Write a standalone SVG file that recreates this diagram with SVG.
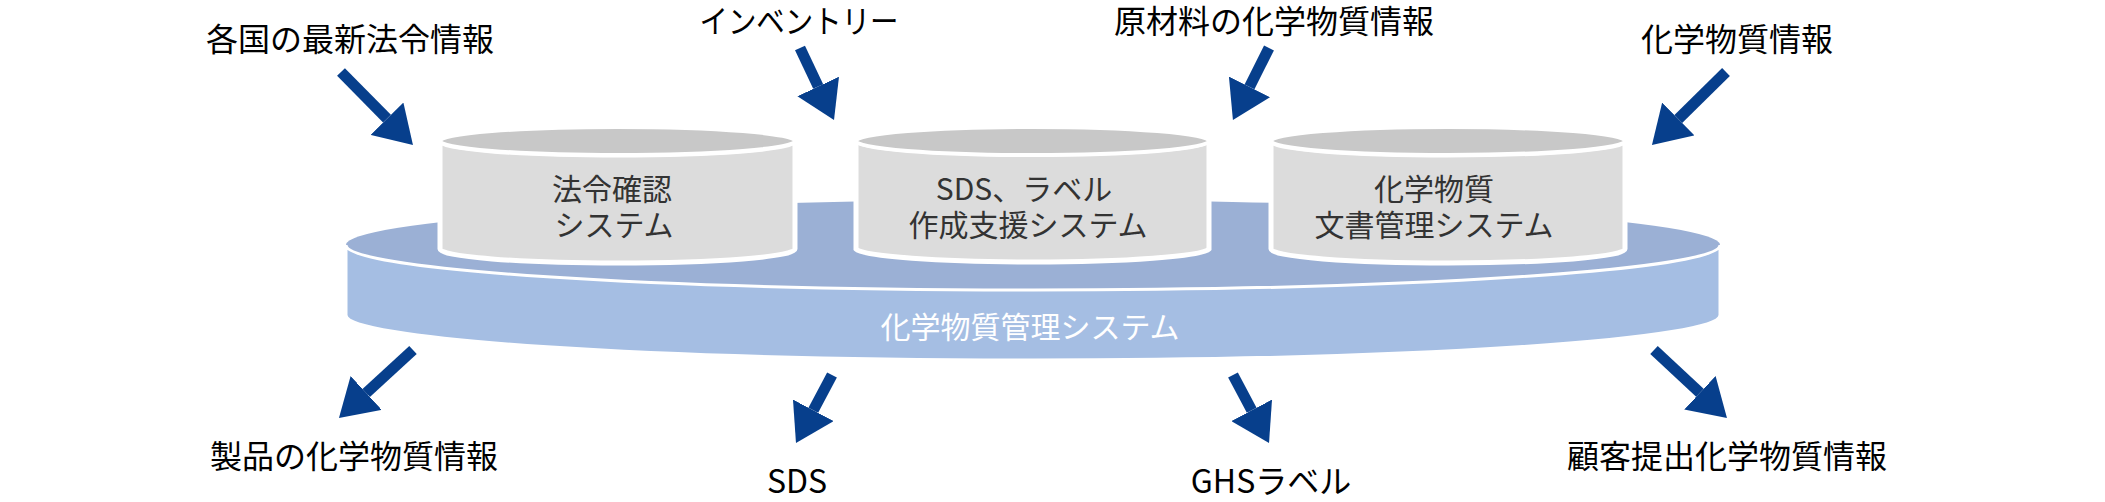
<svg xmlns="http://www.w3.org/2000/svg" width="2105" height="502" viewBox="0 0 2105 502">
<style>
.lbl{font-family:"Noto Sans CJK JP","Noto Sans",sans-serif;font-size:32px;fill:#000;text-anchor:middle}
.cyl{font-family:"Noto Sans CJK JP","Noto Sans",sans-serif;font-size:30px;fill:#333;text-anchor:middle}
.plat{font-family:"Noto Sans CJK JP","Noto Sans",sans-serif;font-size:30px;fill:#fff;text-anchor:middle}
.body{fill:#dcdcdc;stroke:#fff;stroke-width:5}
.cap{fill:#c8c8c8;stroke:#fff;stroke-width:4}
.arr{fill:none;stroke:#073f8c;stroke-width:11;marker-end:url(#ah)}
</style>
<defs>
<marker id="ah" markerUnits="userSpaceOnUse" markerWidth="37" markerHeight="46" viewBox="0 0 37 46" refX="0" refY="23" orient="auto">
<path d="M0,0 L37,23 L0,46 Z" fill="#073f8c"/>
</marker>
</defs>
<rect width="2105" height="502" fill="#fff"/>
<g id="platform">
<ellipse cx="1033" cy="245" rx="687" ry="45" fill="#9bb0d5"/>
<path d="M346,245 L346,315 A687,45 0 0 0 1720,315 L1720,245 A687,45 0 0 1 346,245 Z" fill="#a5bee3" stroke="#fff" stroke-width="3"/>
<text class="plat" x="1030" y="338">化学物質管理システム</text>
</g>
<g id="cyl1">
<path class="body" d="M440,141 L440,249 A177,14 0 0 0 795,249 L795,141 A177,14 0 0 1 440,141 Z"/>
<ellipse class="cap" cx="617.5" cy="141" rx="177.5" ry="14"/>
<text class="cyl" x="612" y="200">法令確認</text>
<text class="cyl" x="614" y="236">システム</text>
</g>
<g id="cyl2">
<path class="body" d="M856,141 L856,249 A177,14 0 0 0 1209,249 L1209,141 A177,14 0 0 1 856,141 Z"/>
<ellipse class="cap" cx="1032.5" cy="141" rx="176.5" ry="14"/>
<text class="cyl" x="1024" y="200">SDS、ラベル</text>
<text class="cyl" x="1028" y="236">作成支援システム</text>
</g>
<g id="cyl3">
<path class="body" d="M1271,141 L1271,249 A177,14 0 0 0 1625,249 L1625,141 A177,14 0 0 1 1271,141 Z"/>
<ellipse class="cap" cx="1448" cy="141" rx="177" ry="14"/>
<text class="cyl" x="1434" y="200">化学物質</text>
<text class="cyl" x="1434" y="236">文書管理システム</text>
</g>
<g id="labels">
<text class="lbl" x="350" y="51">各国の最新法令情報</text>
<text class="lbl" x="799" y="33" textLength="199" lengthAdjust="spacingAndGlyphs">インベントリー</text>
<text class="lbl" x="1274" y="33">原材料の化学物質情報</text>
<text class="lbl" x="1737" y="51">化学物質情報</text>
<text class="lbl" x="354" y="468">製品の化学物質情報</text>
<text class="lbl" x="797" y="493">SDS</text>
<text class="lbl" x="1271" y="493">GHSラベル</text>
<text class="lbl" x="1727" y="468">顧客提出化学物質情報</text>
</g>
<g id="connectors">
<path class="arr" d="M341,72 L387,118.7"/>
<path class="arr" d="M800,48 L818.2,86.5"/>
<path class="arr" d="M1269,48 L1249.5,86.9"/>
<path class="arr" d="M1726,72 L1678.3,119"/>
<path class="arr" d="M413,350 L366.2,393"/>
<path class="arr" d="M832,375 L813.3,410.3"/>
<path class="arr" d="M1233,375 L1251.7,410.3"/>
<path class="arr" d="M1654,350 L1699.9,392.8"/>
</g>
</svg>
